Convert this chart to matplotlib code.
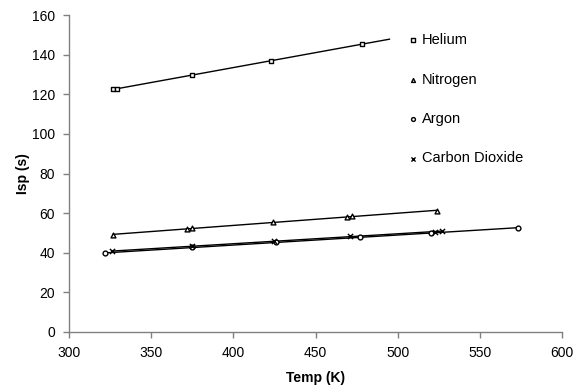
import numpy as np
from matplotlib import pyplot as plt

plt.rcParams['font.family'] = ['Liberation Sans', 'DejaVu Sans']

# data
he_t = [327, 329, 375, 423, 478]
he_isp = [122.6, 122.6, 129.7, 137.0, 145.2]

n2_t = [327, 372, 375, 424, 469, 472, 524]
n2_isp = [49.0, 52.2, 52.4, 55.4, 58.0, 58.3, 61.3]

ar_t = [322, 375, 426, 477, 520, 573]
ar_isp = [39.7, 42.7, 45.4, 47.8, 50.1, 52.4]

co2_t = [326, 375, 425, 471, 523, 527]
co2_isp = [40.7, 43.2, 46.0, 48.5, 50.5, 50.8]

series = [
    ('Helium', he_t, he_isp, 's', 17),
    ('Nitrogen', n2_t, n2_isp, '^', 0),
    ('Argon', ar_t, ar_isp, 'o', 0),
    ('Carbon Dioxide', co2_t, co2_isp, 'x', 0),
]

fig = plt.figure(figsize=(5.82, 3.85), dpi=100)
ax = fig.add_axes([0.1186, 0.1377, 0.847, 0.8233])

for name, t, isp, mk, fwd in series:
    t = np.array(t)
    isp = np.array(isp)
    # linear trendline
    a, b = np.polyfit(t, isp, 1)
    xs = np.array([t.min(), t.max() + fwd])
    ax.plot(xs, a * xs + b, color='black', linewidth=1, zorder=2)
    if mk == 'x':
        ax.scatter(t, isp, s=14, marker=mk, color='black', linewidths=1, zorder=3,
                   label=name)
    else:
        ax.scatter(t, isp, s=12, marker=mk, facecolors='white', edgecolors='black',
                   linewidths=1, zorder=3, label=name)

ax.set_xlim(300, 600)
ax.set_ylim(0, 160)
ax.set_xticks(np.arange(300, 601, 50))
ax.set_yticks(np.arange(0, 161, 20))
ax.set_xlabel('Temp (K)', fontsize=10, fontweight='bold', labelpad=8)
ax.set_ylabel('Isp (s)', fontsize=10, fontweight='bold', labelpad=1)

for s in ['top', 'right']:
    ax.spines[s].set_visible(False)
for s in ['left', 'bottom']:
    ax.spines[s].set_color('#808080')
    ax.spines[s].set_linewidth(1)
ax.tick_params(direction='out', length=4, width=1, color='#808080',
               labelsize=10, pad=6)

leg = ax.legend(loc='upper left', bbox_to_anchor=(0.662, 0.984), frameon=False,
                fontsize=10.5, handlelength=0.6, handletextpad=0.3,
                labelspacing=1.74, markerscale=0.8, scatterpoints=1)

plt.savefig('out.png', dpi=100)
